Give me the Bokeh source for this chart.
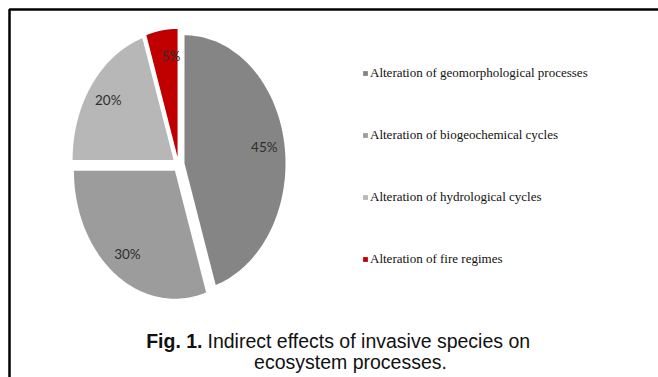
import numpy as np
from bokeh.plotting import figure
from bokeh.models import Range1d, Legend, LegendItem, BoxAnnotation, Label
from bokeh.core.properties import value
from bokeh.embed import file_html
from bokeh.resources import INLINE

# Indirect effects of invasive species on ecosystem processes (share, %)
categories = [
    "Alteration of geomorphological processes",
    "Alteration of biogeochemical cycles",
    "Alteration of hydrological cycles",
    "Alteration of fire regimes",
]
shares = [45, 30, 20, 5]
colors = ["#858585", "#9c9c9c", "#b7b7b7", "#c00000"]

W, H = 658, 377
p = figure(width=W, height=H, output_backend="svg", toolbar_location=None,
           x_range=Range1d(0, W), y_range=Range1d(H, 0), min_border=0)
p.axis.visible = False
p.grid.visible = False
p.outline_line_color = None
p.background_fill_color = "white"
p.border_fill_color = "white"

# frame around the figure
p.add_layout(BoxAnnotation(left=9, top=9, right=W + 20, bottom=H + 20,
                           fill_alpha=0, line_color="black", line_alpha=1,
                           line_width=2.5))

# pie drawn as a stretched (elliptical) exploded pie, clockwise from 12 o'clock
cx, cy, rx, ry = 178, 164, 101, 128
explode = 0.06
total = float(sum(shares))
start = 0.0
renderers = []
for name, v, c in zip(categories, shares, colors):
    a0 = start
    a1 = start + 360.0 * v / total
    mid = np.radians((a0 + a1) / 2)
    ox, oy = explode * rx * np.sin(mid), -explode * ry * np.cos(mid)
    t = np.radians(np.linspace(a0, a1, 120))
    xs = [cx + ox] + list(cx + ox + rx * np.sin(t))
    ys = [cy + oy] + list(cy + oy - ry * np.cos(t))
    r = p.patch(xs, ys, fill_color=c, line_color=None)
    renderers.append(r)
    lx = cx + ox + 0.8 * rx * np.sin(mid)
    ly = cy + oy - 0.8 * ry * np.cos(mid)
    p.text([lx + (6 if v == 5 else 0)], [ly], text=[f"{v}%"], text_align="center",
           text_baseline="middle", text_font=value("Lato"),
           text_font_size="13.5px", text_color="#2e2e2e")
    start = a1

legend = Legend(items=[LegendItem(label=n, renderers=[r]) for n, r in zip(categories, renderers)],
                location=(362, 108), orientation="vertical", spacing=42,
                glyph_width=6, glyph_height=6, label_standoff=2, padding=0, margin=0,
                label_height=20, label_text_font="Liberation Serif",
                label_text_font_size="13px", label_text_color="#111111",
                border_line_alpha=0, background_fill_alpha=0)
p.add_layout(legend)

# caption
cap_x = 202
p.add_layout(Label(x=cap_x, y=340, text="Fig. 1.", text_align="right", text_baseline="middle",
                   text_font="Liberation Sans", text_font_style="bold",
                   text_font_size="19.5px", text_color="#111111"))
p.add_layout(Label(x=cap_x + 5, y=340, text="Indirect effects of invasive species on",
                   text_align="left", text_baseline="middle",
                   text_font="Liberation Sans", text_font_size="19.5px", text_color="#111111"))
p.add_layout(Label(x=350, y=361, text="ecosystem processes.", text_align="center",
                   text_baseline="middle", text_font="Liberation Sans",
                   text_font_size="19.5px", text_color="#111111"))

open("out.html", "w").write(file_html(p, INLINE))
